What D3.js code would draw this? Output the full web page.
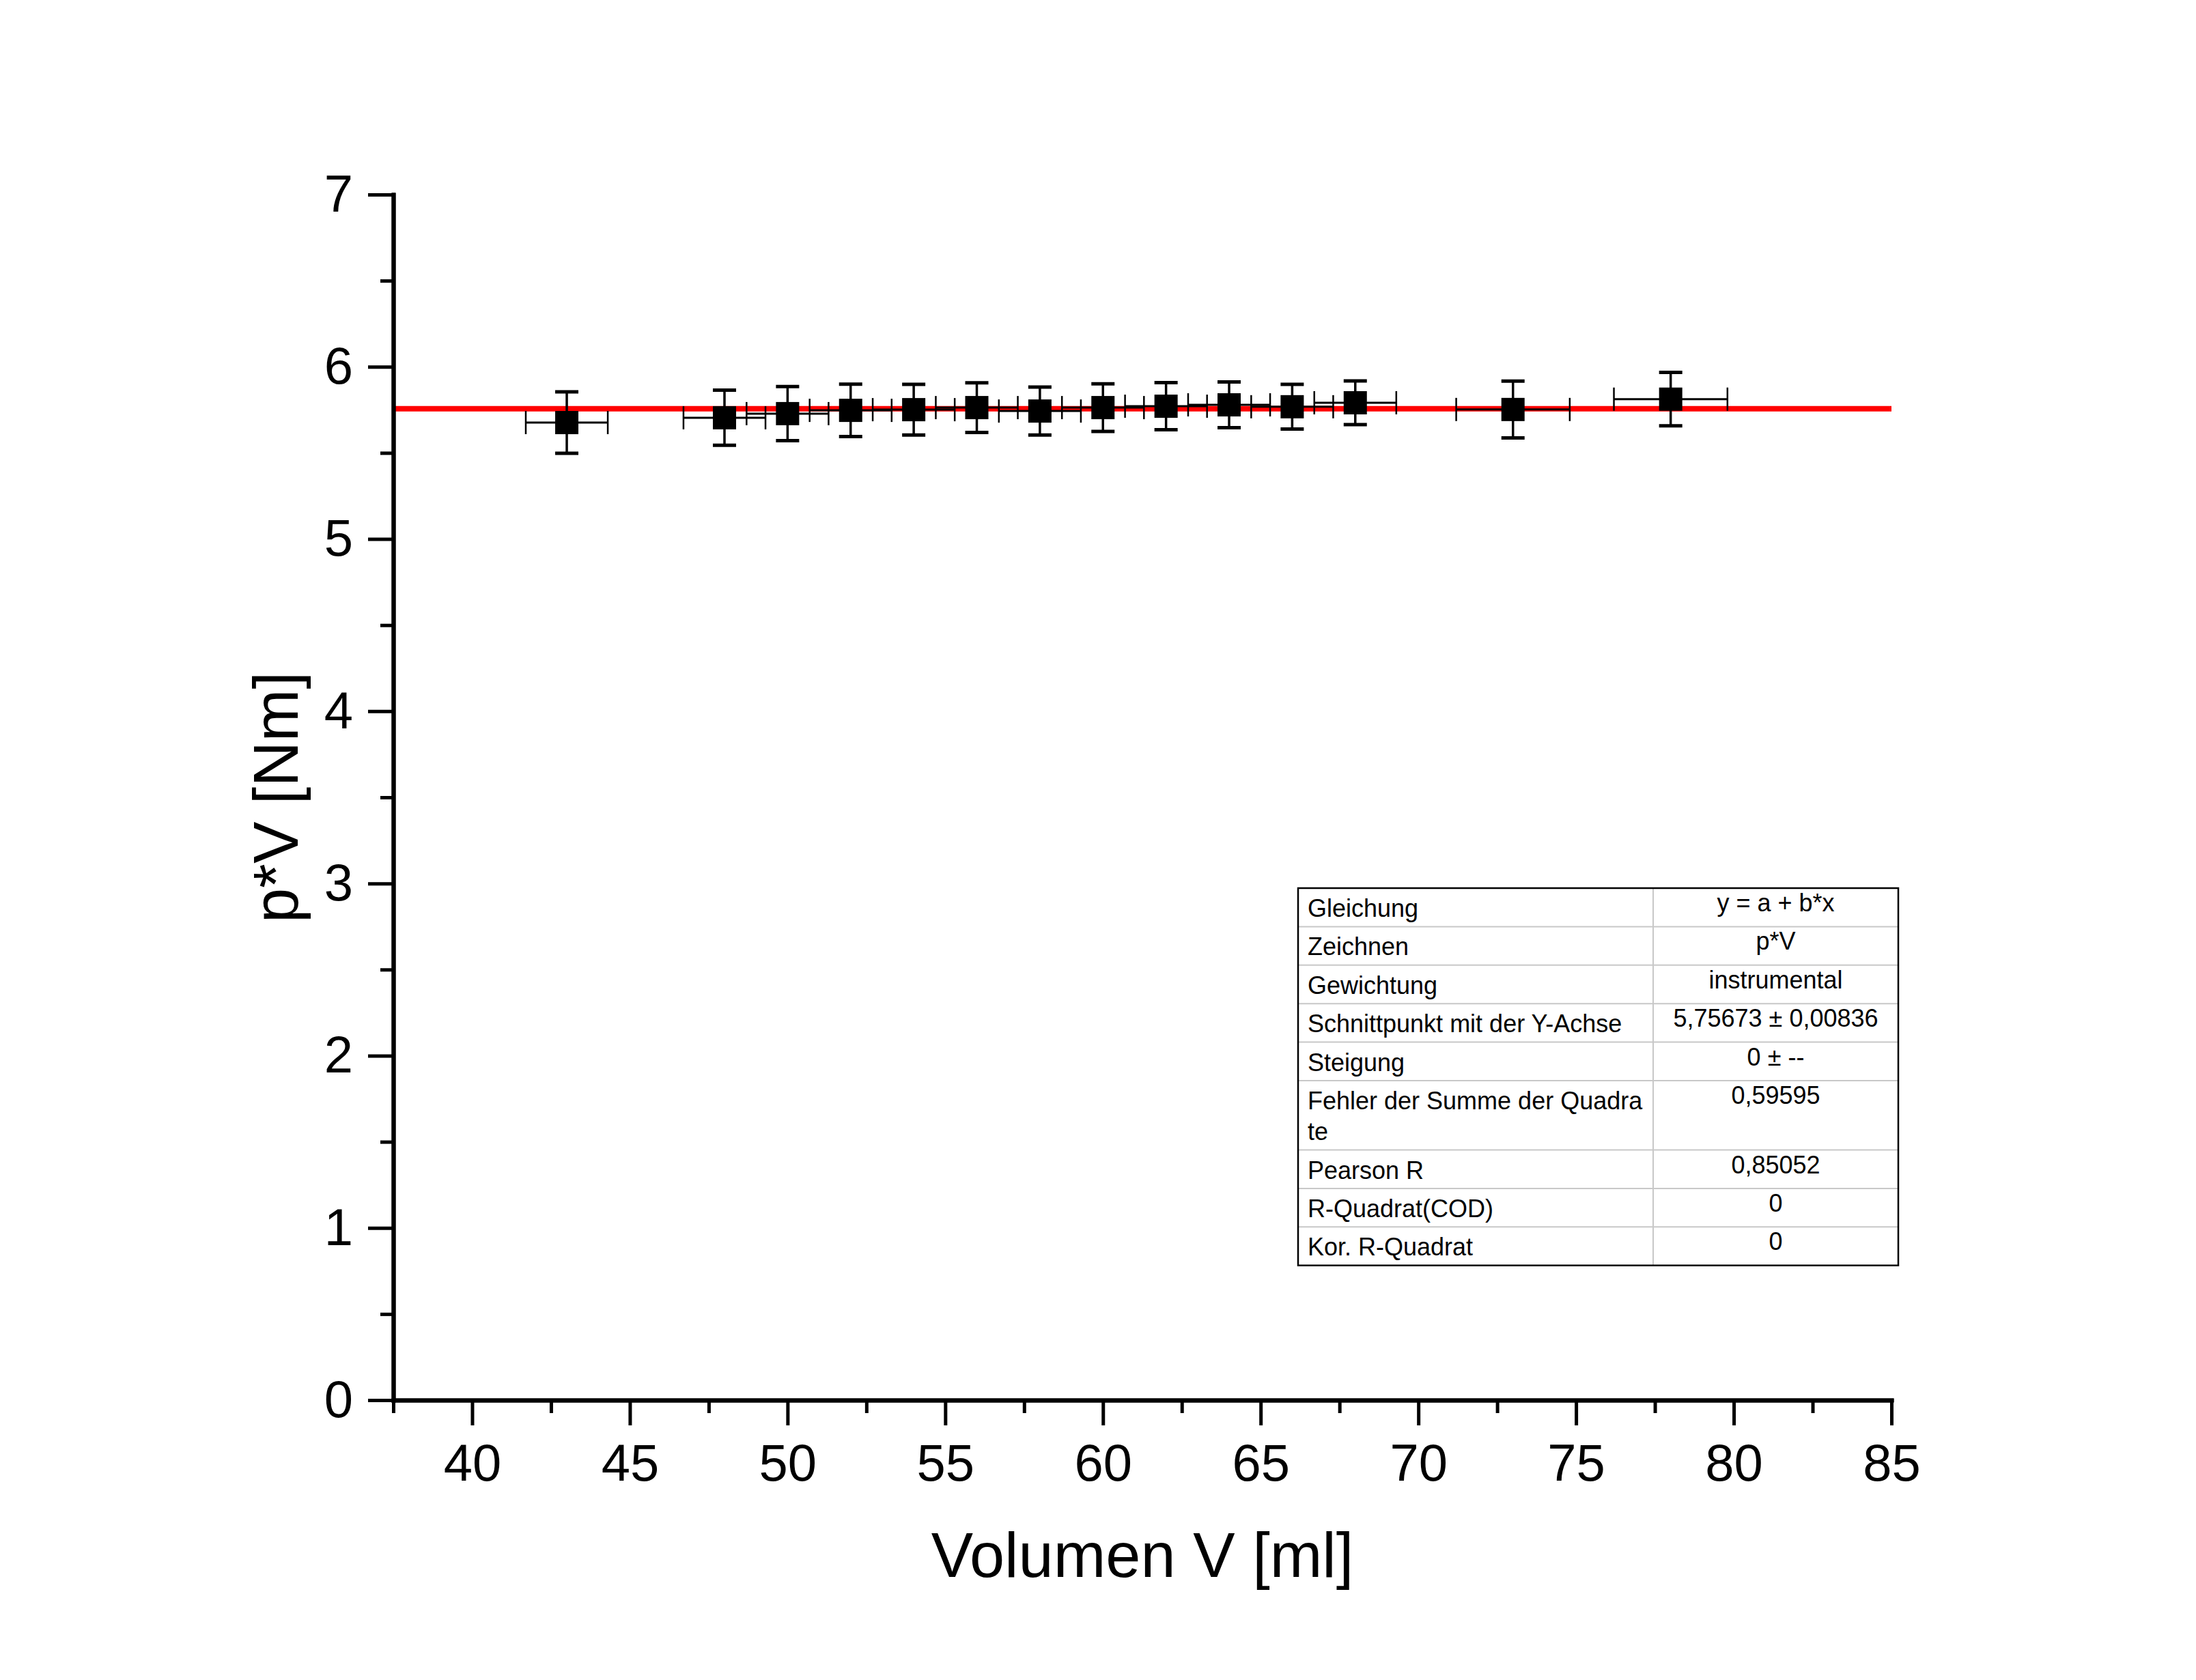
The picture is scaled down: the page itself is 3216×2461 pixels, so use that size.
<!DOCTYPE html>
<html>
<head>
<meta charset="utf-8">
<script src="https://cdn.jsdelivr.net/npm/d3@7"></script>
<style>
  body { margin: 0; background: #fff; }
  svg { display: block; font-family: "Liberation Sans", Arial, sans-serif; }
</style>
</head>
<body>
<svg id="chart" width="3216" height="2461"></svg>
<script>
// measured data (volume in ml, p*V in Nm)
const volumes = [43, 48, 50, 52, 54, 56, 58, 60, 62, 64, 66, 68, 73, 78];
const pv      = [5.676, 5.704, 5.728, 5.747, 5.751, 5.763, 5.743, 5.763, 5.771, 5.779, 5.768, 5.791, 5.752, 5.812];
const pvErr   = [0.178, 0.160, 0.157, 0.152, 0.147, 0.144, 0.139, 0.138, 0.137, 0.133, 0.130, 0.127, 0.165, 0.155];
const volErr  = [1.3, 1.3, 1.3, 1.3, 1.3, 1.3, 1.3, 1.3, 1.3, 1.3, 1.3, 1.3, 1.8, 1.8];

// fit result
const fitIntercept = 5.75673;
const fitSlope = 0;

const xTicks = [40, 45, 50, 55, 60, 65, 70, 75, 80, 85];
const xMinorTicks = [37.5, 42.5, 47.5, 52.5, 57.5, 62.5, 67.5, 72.5, 77.5, 82.5];
const yTicks = [0, 1, 2, 3, 4, 5, 6, 7];
const yMinorTicks = [0.5, 1.5, 2.5, 3.5, 4.5, 5.5, 6.5];

const tableLabels = ["Gleichung", "Zeichnen", "Gewichtung", "Schnittpunkt mit der Y-Achse", "Steigung",
                     ["Fehler der Summe der Quadra", "te"], "Pearson R", "R-Quadrat(COD)", "Kor. R-Quadrat"];
const tableValues = ["y = a + b*x", "p*V", "instrumental", "5,75673 \u00b1 0,00836", "0 \u00b1 --",
                     "0,59595", "0,85052", "0", "0"];

const svg = d3.select('#chart');

const x = d3.scaleLinear().domain([37.5, 85]).range([576, 2770]);
const y = d3.scaleLinear().domain([0, 7]).range([2051, 285]);

const data = volumes.map((v, i) => ({v: v, pv: pv[i], ey: pvErr[i], ex: volErr[i]}));

// fit line
svg.append('line')
    .attr('x1', x(37.5)).attr('x2', x(85))
    .attr('y1', y(fitIntercept + fitSlope * 37.5))
    .attr('y2', y(fitIntercept + fitSlope * 85))
    .attr('stroke', '#ff0000')
    .attr('stroke-width', 8);

// error bars
const capY = 17;
const capX = 17;
const eb = svg.append('g').attr('stroke', '#000').attr('stroke-width', 3.5);

data.forEach(d => {
    // vertical error
    eb.append('line')
        .attr('x1', x(d.v)).attr('x2', x(d.v))
        .attr('y1', y(d.pv + d.ey)).attr('y2', y(d.pv - d.ey));
    eb.append('line')
        .attr('x1', x(d.v) - capY).attr('x2', x(d.v) + capY)
        .attr('y1', y(d.pv + d.ey)).attr('y2', y(d.pv + d.ey))
        .attr('stroke-width', 5);
    eb.append('line')
        .attr('x1', x(d.v) - capY).attr('x2', x(d.v) + capY)
        .attr('y1', y(d.pv - d.ey)).attr('y2', y(d.pv - d.ey))
        .attr('stroke-width', 5);
    // horizontal error
    eb.append('line')
        .attr('x1', x(d.v - d.ex)).attr('x2', x(d.v + d.ex))
        .attr('y1', y(d.pv)).attr('y2', y(d.pv))
        .attr('stroke-width', 3);
    eb.append('line')
        .attr('x1', x(d.v - d.ex)).attr('x2', x(d.v - d.ex))
        .attr('y1', y(d.pv) - capX).attr('y2', y(d.pv) + capX)
        .attr('stroke-width', 2.5);
    eb.append('line')
        .attr('x1', x(d.v + d.ex)).attr('x2', x(d.v + d.ex))
        .attr('y1', y(d.pv) - capX).attr('y2', y(d.pv) + capX)
        .attr('stroke-width', 2.5);
});

// square markers
const sq = 34;
svg.append('g').selectAll('rect')
    .data(data)
    .enter()
    .append('rect')
    .attr('x', d => x(d.v) - sq / 2)
    .attr('y', d => y(d.pv) - sq / 2)
    .attr('width', sq)
    .attr('height', sq)
    .attr('fill', '#000');

// axes
const xAxis = svg.append('g')
    .attr('transform', `translate(0,${y(0)})`)
    .call(d3.axisBottom(x).tickValues(xTicks).tickSize(37).tickSizeOuter(0).tickPadding(27).tickFormat(d3.format('d')));
const xMinor = svg.append('g')
    .attr('transform', `translate(0,${y(0)})`)
    .call(d3.axisBottom(x).tickValues(xMinorTicks).tickSize(19).tickSizeOuter(0).tickFormat(''));
const yAxis = svg.append('g')
    .attr('transform', `translate(${x(37.5)},0)`)
    .call(d3.axisLeft(y).tickValues(yTicks).tickSize(37).tickSizeOuter(0).tickPadding(22).tickFormat(d3.format('d')));
const yMinor = svg.append('g')
    .attr('transform', `translate(${x(37.5)},0)`)
    .call(d3.axisLeft(y).tickValues(yMinorTicks).tickSize(19).tickSizeOuter(0).tickFormat(''));

[xAxis, xMinor, yAxis, yMinor].forEach(g => {
    g.select('.domain').attr('stroke', '#000').attr('stroke-width', 6).attr('stroke-linecap', 'square');
    g.selectAll('.tick line').attr('stroke', '#000').attr('stroke-width', 5);
    g.selectAll('.tick text').attr('fill', '#000').style('font-size', '76px')
        .style('font-family', '"Liberation Sans", Arial, sans-serif');
});

// axis titles
svg.append('text')
    .attr('x', (x.range()[0] + x.range()[1]) / 2)
    .attr('y', 2310)
    .attr('text-anchor', 'middle')
    .style('font-size', '92px')
    .text('Volumen V [ml]');

svg.append('text')
    .attr('transform', `translate(436,${(y.range()[0] + y.range()[1]) / 2}) rotate(-90)`)
    .attr('text-anchor', 'middle')
    .style('font-size', '92px')
    .text('p*V [Nm]');

// fit results table
const tLeft = 1901, tRight = 2780, tDiv = 2421, tTop = 1301;
const rowPad = 11.3, lineH = 45.1;
const table = svg.append('g').style('font-size', '36px');

let rowY = tTop;
tableLabels.forEach((lab, i) => {
    const lines = Array.isArray(lab) ? lab : [lab];
    const h = rowPad + lineH * lines.length;
    lines.forEach((t, k) => {
        table.append('text')
            .attr('x', tLeft + 14)
            .attr('y', rowY + 42 + k * lineH)
            .text(t);
    });
    table.append('text')
        .attr('x', (tDiv + tRight) / 2)
        .attr('y', rowY + 34)
        .attr('text-anchor', 'middle')
        .text(tableValues[i]);
    rowY += h;
    if (i < tableLabels.length - 1) {
        table.append('line')
            .attr('x1', tLeft).attr('x2', tRight)
            .attr('y1', rowY).attr('y2', rowY)
            .attr('stroke', '#c8c8c8').attr('stroke-width', 2);
    }
});

table.append('line')
    .attr('x1', tDiv).attr('x2', tDiv)
    .attr('y1', tTop).attr('y2', rowY)
    .attr('stroke', '#c8c8c8').attr('stroke-width', 2);

table.append('rect')
    .attr('x', tLeft).attr('y', tTop)
    .attr('width', tRight - tLeft).attr('height', rowY - tTop)
    .attr('fill', 'none')
    .attr('stroke', '#000')
    .attr('stroke-width', 2.5);
</script>
</body>
</html>
